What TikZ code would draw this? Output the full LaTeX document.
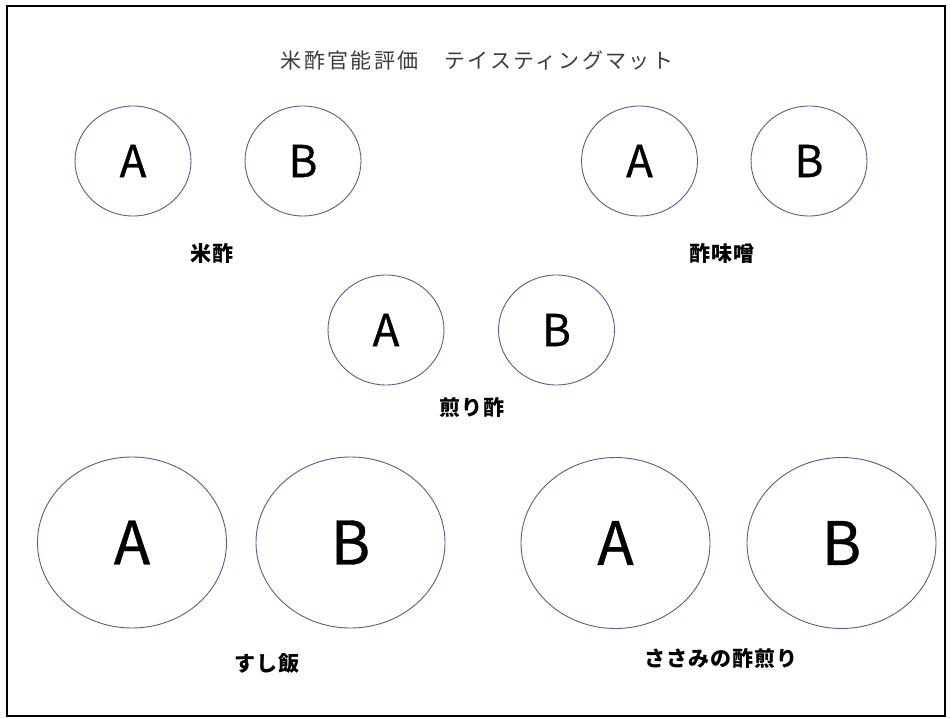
\documentclass[tikz,border=0pt]{standalone}
\usepackage{fontspec}
\usetikzlibrary{shapes.geometric}
\newfontfamily\jp{Noto Sans CJK JP}
\newfontfamily\jpletter[FakeBold=0.6]{Noto Sans CJK JP}
\newfontfamily\jplabel[LetterSpace=4]{Noto Sans CJK JP}
\newfontfamily\jptitle[LetterSpace=11]{Noto Sans CJK JP}
\definecolor{ringcol}{RGB}{80,96,150}
\definecolor{titlecol}{RGB}{60,60,60}
\tikzset{
  smallring/.style={ellipse, draw=ringcol, line width=0.9pt, inner sep=0pt,
    minimum width=116pt, minimum height=110pt, font=\jpletter\fontsize{44}{44}\selectfont},
  bigring/.style={ellipse, draw=ringcol, line width=0.9pt, inner sep=0pt,
    minimum width=189pt, minimum height=171pt, font=\jpletter\fontsize{60}{60}\selectfont},
  foodlabel/.style={font=\jplabel\bfseries\fontsize{21}{21}\selectfont, text=black, inner sep=0pt}
}
\begin{document}
\begin{tikzpicture}[x=1pt,y=-1pt]
\useasboundingbox (0,0) rectangle (950,719);
\fill[white] (0,0) rectangle (950,719);
\draw[line width=2.5pt] (7,6) rectangle (945,716);
\node[font=\jptitle\fontsize{21}{21}\selectfont, text=titlecol, inner sep=0pt] (title) at (477,61) {米酢官能評価　テイスティングマット};
% 米酢
\node[smallring] (komeA) at (133,161) {A};
\node[smallring] (komeB) at (303,161) {B};
\node[foodlabel] (komeL) at (212,253) {米酢};
% 酢味噌
\node[smallring] (misoA) at (639.5,161) {A};
\node[smallring] (misoB) at (809,161) {B};
\node[foodlabel] (misoL) at (722,253) {酢味噌};
% 煎り酢
\node[smallring] (iriA) at (386,330) {A};
\node[smallring] (iriB) at (556.5,330) {B};
\node[foodlabel] (iriL) at (472,407) {煎り酢};
% すし飯
\node[bigring] (sushiA) at (132,542.5) {A};
\node[bigring] (sushiB) at (350.5,542.5) {B};
\node[foodlabel] (sushiL) at (267,663) {すし飯};
% ささみの酢煎り
\node[bigring] (sasaA) at (615.5,543) {A};
\node[bigring] (sasaB) at (841.5,543) {B};
\node[foodlabel] (sasaL) at (721,658) {ささみの酢煎り};
\end{tikzpicture}
\end{document}
